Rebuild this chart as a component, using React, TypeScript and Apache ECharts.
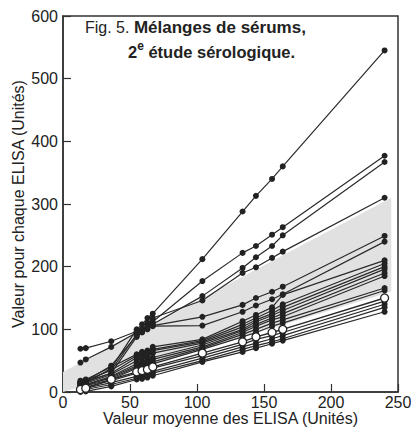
import React, { useEffect, useRef } from "react";
import * as echarts from "echarts";

// Mean ELISA value of each serum pool (x positions)
const xMeans = [13, 17, 36, 55, 59, 63, 67, 104, 134, 144, 156, 164, 240];

// Values found by each laboratory for each pool (filled circles)
const lab01 = [12, 14, 38, 100, 108, 118, 125, 212, 288, 313, 340, 360, 545];
const lab02 = [15, 18, 35, 92, 98, 104, 112, 177, 222, 233, 251, 263, 377];
const lab03 = [14, 17, 30, 88, 95, 100, 108, 153, 198, 215, 233, 250, 367];
const lab04 = [16, 18, 42, 90, 96, 110, 118, 146, 190, 199, 214, 224, 310];
const lab05 = [69, 70, 81, 97, 100, 104, 106, 120, 139, 150, 160, 168, 249];
const lab06 = [47, 52, 72, 95, 100, 103, 105, 106, 128, 138, 148, 156, 240];
const lab07 = [18, 20, 40, 60, 64, 66, 72, 84, 113, 123, 135, 155, 210];
const lab08 = [15, 18, 35, 58, 62, 64, 68, 82, 108, 118, 130, 140, 205];
const lab09 = [14, 16, 30, 55, 58, 62, 66, 80, 104, 115, 125, 135, 200];
const lab10 = [12, 14, 28, 50, 54, 58, 62, 78, 100, 112, 122, 130, 196];
const lab11 = [10, 12, 25, 45, 48, 52, 55, 75, 98, 108, 118, 125, 190];
const lab12 = [8, 10, 24, 42, 45, 48, 52, 72, 95, 105, 115, 120, 185];
const lab13 = [10, 12, 22, 40, 42, 45, 48, 70, 92, 100, 110, 115, 166];
const lab14 = [8, 10, 20, 38, 40, 42, 45, 68, 88, 95, 105, 110, 162];
const lab16 = [6, 8, 18, 30, 32, 35, 38, 58, 76, 84, 90, 95, 145];
const lab17 = [4, 6, 15, 25, 28, 30, 33, 54, 72, 78, 85, 90, 140];
const lab18 = [2, 4, 12, 22, 24, 26, 30, 50, 68, 74, 80, 85, 135];
const lab19 = [0, 1, 9, 20, 21, 23, 26, 48, 64, 70, 77, 82, 128];

// Open circles
const labOpen = [4, 6, 20, 32, 34, 36, 40, 62, 80, 88, 95, 100, 150];

// Shaded band
const bandUpper = [[0, 32], [245, 310]];
const bandLower = [[0, 0], [245, 160]];

const xTickInterval = 50;
const yTickInterval = 100;

const filledLabs = [lab01, lab02, lab03, lab04, lab05, lab06, lab07, lab08, lab09, lab10,
  lab11, lab12, lab13, lab14, lab16, lab17, lab18, lab19];

const FONT = "'Liberation Sans', Arial, Helvetica, sans-serif";
const INK = "#222";

export default function App() {
  const ref = useRef<HTMLDivElement>(null);
  useEffect(() => {
    if (!ref.current) return;
    const chart = echarts.init(ref.current, null, { renderer: "svg" });
    const toPairs = (vals: number[]) => vals.map((v, i) => [xMeans[i], v]);
    const series: any[] = [];
    series.push({
      type: "custom",
      name: "band",
      silent: true,
      z: 1,
      data: [[0, 0]],
      renderItem: (params: any, api: any) => {
        const pts = [...bandUpper, ...[...bandLower].reverse()].map((p) => api.coord(p));
        return {
          type: "polygon",
          shape: { points: pts },
          style: { fill: "#e1e1e1" },
        };
      },
    });
    filledLabs.forEach((vals, i) => {
      series.push({
        type: "line",
        name: "lab" + i,
        data: toPairs(vals),
        symbol: "circle",
        symbolSize: 6,
        z: 3,
        itemStyle: { color: INK },
        lineStyle: { color: "#2a2a2a", width: 1.2 },
      });
    });
    series.push({
      type: "line",
      name: "open",
      data: toPairs(labOpen),
      symbol: "circle",
      symbolSize: 8,
      z: 5,
      itemStyle: { color: "#fff", borderColor: INK, borderWidth: 1.3 },
      lineStyle: { color: "#2a2a2a", width: 1.4 },
    });
    chart.setOption({
      animation: false,
      grid: {
        left: 63, right: 13, top: 16, bottom: 35,
        containLabel: false,
        outerBoundsMode: "none",
        show: true, borderColor: "#333", borderWidth: 1.5,
      },
      xAxis: {
        type: "value", min: 0, max: 250, interval: xTickInterval,
        name: "Valeur moyenne des ELISA (Unités)",
        nameLocation: "middle", nameGap: 18, nameMoveOverlap: false,
        nameTextStyle: { fontFamily: FONT, fontSize: 16, color: INK },
        axisLine: { show: true, lineStyle: { color: "#333", width: 1.5 } },
        axisTick: { show: true, inside: true, length: 8, lineStyle: { color: "#333", width: 1.2 } },
        axisLabel: { fontFamily: FONT, fontSize: 16, color: INK, margin: 2 },
        splitLine: { show: false },
      },
      yAxis: {
        type: "value", min: 0, max: 600, interval: yTickInterval,
        name: "Valeur pour chaque ELISA (Unités)",
        nameLocation: "middle", nameGap: 37, nameMoveOverlap: false,
        nameTextStyle: { fontFamily: FONT, fontSize: 16, color: INK },
        axisLine: { show: true, lineStyle: { color: "#333", width: 1.5 } },
        axisTick: { show: true, inside: true, length: 8, lineStyle: { color: "#333", width: 1.2 } },
        axisLabel: { fontFamily: FONT, fontSize: 16, color: INK, margin: 5 },
        splitLine: { show: false },
      },
      graphic: [
        {
          type: "text",
          left: 85,
          top: 19,
          z: 10,
          style: {
            text: "{n|Fig. 5. }{b|Mélanges de sérums,}",
            rich: {
              n: { fontFamily: FONT, fontSize: 16, fill: INK, fontWeight: "normal", lineHeight: 20 },
              b: { fontFamily: FONT, fontSize: 17, fill: INK, fontWeight: "bold", lineHeight: 20 },
            },
          },
        },
        {
          type: "text",
          left: 128,
          top: 40,
          z: 10,
          style: {
            text: "{b|2}{s|e}{b| étude sérologique.}",
            rich: {
              b: { fontFamily: FONT, fontSize: 16.5, fill: INK, fontWeight: "bold", lineHeight: 20, verticalAlign: "bottom" },
              s: { fontFamily: FONT, fontSize: 12, fill: INK, fontWeight: "bold", lineHeight: 20, verticalAlign: "top" },
            },
          },
        },
      ],
      series,
    });
    return () => chart.dispose();
  }, []);
  return (
    <div
      ref={ref}
      style={{ position: "fixed", left: 0, top: 0, width: 411, height: 427, background: "#fff" }}
    />
  );
}
